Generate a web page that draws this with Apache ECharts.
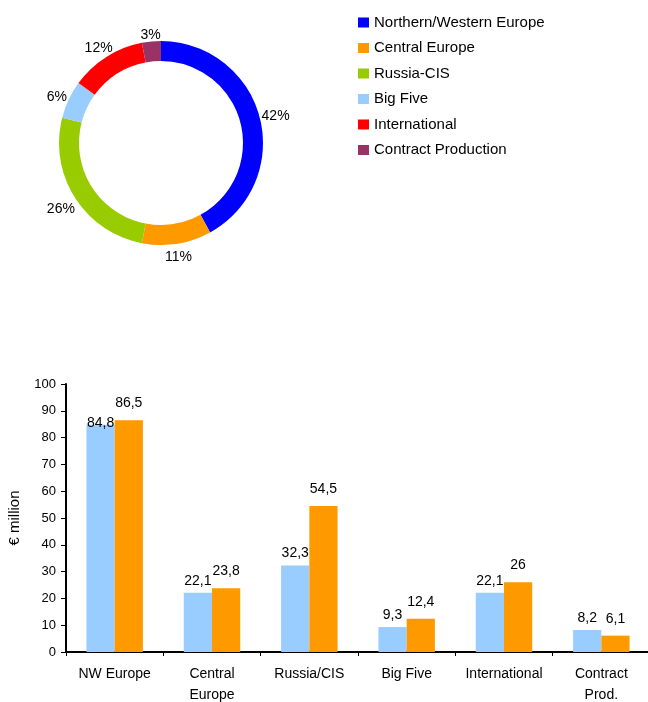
<!DOCTYPE html>
<html>
<head>
<meta charset="utf-8">
<script src="https://cdn.jsdelivr.net/npm/echarts@6/dist/echarts.min.js"></script>
<style>
  html, body { margin: 0; padding: 0; background: #fff; }
  #chart { width: 648px; height: 702px; }
</style>
</head>
<body>
<div id="chart"></div>
<script>
// pie: regional share (%)
const regions = ["Northern/Western Europe", "Central Europe", "Russia-CIS", "Big Five", "International", "Contract Production"];
const shares = [42, 11, 26, 6, 12, 3];
const regionColors = ["#0000FF", "#FF9900", "#99CC00", "#99CCFF", "#FF0000", "#993366"];

// bars: € million
const barCategories = ["NW Europe", "Central\nEurope", "Russia/CIS", "Big Five", "International", "Contract\nProd."];
const valuesPrev = [84.8, 22.1, 32.3, 9.3, 22.1, 8.2];
const valuesCurr = [86.5, 23.8, 54.5, 12.4, 26, 6.1];
const yTicks = { min: 0, max: 100, interval: 10 };

const font = "Liberation Sans, Arial, sans-serif";
const fmtComma = (p) => String(p.value).replace(".", ",");

const pieCenter = [161, 143];
const pieOuter = 102;
const shareTotal = shares.reduce((a, b) => a + b, 0);

// put each % label just outside the ring, along the slice's middle angle
function pieLabelLayout(params) {
  let before = 0;
  for (let i = 0; i < params.dataIndex; i++) before += shares[i];
  const mid = ((before + shares[params.dataIndex] / 2) / shareTotal) * Math.PI * 2;
  const sx = Math.sin(mid), cy = -Math.cos(mid);
  const w = params.labelRect.width, h = params.labelRect.height;
  const r = pieOuter + Math.abs(sx) * w / 2 + Math.abs(cy) * h / 2 + 1;
  return {
    x: pieCenter[0] + sx * r,
    y: pieCenter[1] + cy * r + 3,
    align: "center",
    verticalAlign: "middle",
  };
}

let chart = echarts.init(document.getElementById("chart"));
let option = {
  animation: false,
  textStyle: { fontFamily: font, color: "#000" },
  legend: {
    orient: "vertical",
    left: 353,
    top: 10,
    itemWidth: 11,
    itemHeight: 10,
    itemGap: 10.5,
    icon: "rect",
    textStyle: { fontFamily: font, fontSize: 15, color: "#000" },
    data: regions,
  },
  grid: { left: 66, right: -2, top: 384, bottom: 50, outerBoundsMode: "none" },
  xAxis: {
    type: "category",
    data: barCategories,
    axisLine: { lineStyle: { color: "#000", width: 2 } },
    axisTick: { show: true, length: 4, lineStyle: { color: "#000" } },
    axisLabel: { color: "#000", fontSize: 14, fontFamily: font, margin: 12, lineHeight: 21, interval: 0 },
  },
  yAxis: {
    type: "value",
    min: yTicks.min,
    max: yTicks.max,
    interval: yTicks.interval,
    name: "€ million",
    nameLocation: "middle",
    nameGap: 44,
    nameTextStyle: { color: "#000", fontSize: 15, fontFamily: font },
    splitLine: { show: false },
    axisLine: { show: true, lineStyle: { color: "#000", width: 2 } },
    axisTick: { show: true, length: 5, lineStyle: { color: "#000" } },
    axisLabel: { color: "#000", fontSize: 13, fontFamily: font, margin: 10 },
  },
  series: [
    {
      type: "pie",
      center: pieCenter,
      radius: [82, pieOuter],
      startAngle: 90,
      clockwise: true,
      avoidLabelOverlap: false,
      data: regions.map((name, i) => ({ name, value: shares[i], itemStyle: { color: regionColors[i] } })),
      label: {
        show: true,
        position: "outside",
        formatter: "{c}%",
        fontSize: 14,
        fontFamily: font,
        color: "#000",
      },
      labelLine: { show: false, length: 3, length2: 0 },
      labelLayout: pieLabelLayout,
      emphasis: { disabled: true },
    },
    {
      type: "bar",
      name: "Prior year",
      data: valuesPrev.map((v, i) => (i === 0 ? { value: v, label: { offset: [0, 10] } } : v)),
      barWidth: "29%",
      barGap: "0%",
      itemStyle: { color: "#99CCFF" },
      label: { show: true, position: "top", distance: 5, formatter: fmtComma, color: "#000", fontSize: 14, fontFamily: font },
    },
    {
      type: "bar",
      name: "Current year",
      data: valuesCurr,
      barWidth: "29%",
      barGap: "0%",
      itemStyle: { color: "#FF9900" },
      label: { show: true, position: "top", distance: 10, formatter: fmtComma, color: "#000", fontSize: 14, fontFamily: font },
    },
  ],
};
chart.setOption(option);
</script>
</body>
</html>
